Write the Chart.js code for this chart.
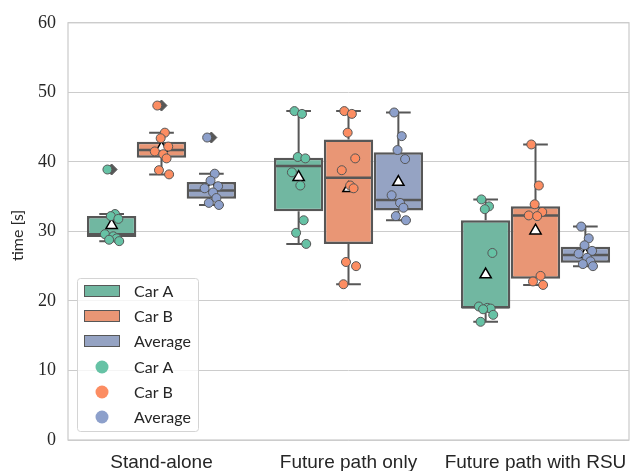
<!DOCTYPE html>
<html>
<head>
<meta charset="utf-8">
<script src="https://cdn.jsdelivr.net/npm/chart.js@4.4.1/dist/chart.umd.min.js"></script>
<style>
    html, body { margin: 0; padding: 0; background: #fff; }
    #wrap { width: 637px; height: 471px; }
</style>
</head>
<body>
<div id="wrap"><canvas id="myChart" width="637" height="471"></canvas></div>
<script>
const categories = ['Stand-alone', 'Future path only', 'Future path with RSU'];
const hue_names = ['Car A', 'Car B', 'Average'];
const y_ticks = [0, 10, 20, 30, 40, 50, 60];

// box stats per category: [lower whisker, q1, median, q3, upper whisker]
const car_a_box = [[28.6, 29.2, 29.6, 32.2, 32.5], [28.2, 32.9, 39.4, 40.6, 47.3], [17.0, 18.9, 19.1, 31.6, 34.6]];
const car_b_box = [[38.2, 40.6, 41.7, 42.9, 44.2], [22.4, 28.2, 37.7, 43.2, 47.3], [22.3, 23.2, 32.3, 33.6, 42.5]];
const avg_box = [[33.8, 34.7, 35.9, 37.1, 38.3], [31.6, 33.0, 34.5, 41.4, 47.1], [25.0, 25.5, 26.6, 27.8, 30.7]];

const car_a_mean = [30.9, 37.8, 23.8];
const car_b_mean = [42.0, 36.2, 30.1];
const avg_mean = [36.3, 37.1, 26.7];

const car_a_outliers = [[38.9], [], []];
const car_b_outliers = [[48.1], [], []];
const avg_outliers = [[43.5], [], []];

const car_a_points = [
    [38.9, 32.5, 32.2, 31.8, 29.6, 29.3, 29.0, 28.8, 28.6],
    [47.3, 46.9, 40.7, 40.5, 38.5, 36.6, 31.6, 29.8, 28.2],
    [34.6, 33.6, 33.2, 26.9, 19.2, 19.0, 18.9, 18.8, 18.0, 17.0],
];
const car_b_points = [
    [48.1, 44.2, 43.4, 42.2, 41.5, 41.1, 40.5, 38.8, 38.2],
    [47.3, 46.9, 44.2, 40.5, 38.8, 36.6, 36.2, 25.6, 25.0, 22.4],
    [42.5, 36.6, 33.9, 32.8, 32.3, 32.2, 23.6, 22.8, 22.3],
];
const avg_points = [
    [43.5, 38.3, 37.3, 36.5, 36.2, 35.6, 34.8, 34.1, 33.8],
    [47.1, 43.7, 41.7, 40.4, 35.2, 34.1, 33.4, 32.2, 31.6],
    [30.7, 29.0, 28.0, 27.2, 26.8, 26.2, 25.7, 25.3, 25.0],
];

const boxes = [car_a_box, car_b_box, avg_box];
const means = [car_a_mean, car_b_mean, avg_mean];
const outliers = [car_a_outliers, car_b_outliers, avg_outliers];
const points = [car_a_points, car_b_points, avg_points];

const box_colors = ['#71b7a1', '#e99675', '#95a3c3'];
const point_colors = ['#66c2a5', '#fc8d62', '#8da0cb'];
const edge_color = '#575757';
const text_color = '#262626';
const dodge = 0.8 / 3;
// fixed jitter pattern (fraction of max jitter), so the strip looks like the reference
const jitter = [-0.5, 0.4, -0.1, 0.8, -0.8, 0.2, 0.6, -0.3, 0.9, -0.6];
const jitter_width = 0.045;

const hueX = (c, h) => c + (h - 1) * dodge;

let datasets = [];
hue_names.forEach((name, h) => {
    datasets.push({
        type: 'bar',
        label: name,
        data: boxes[h].map((b, c) => ({x: hueX(c, h), y: [b[1], b[3]]})),
        backgroundColor: box_colors[h],
        borderColor: edge_color,
        borderWidth: 2.5,
        borderSkipped: false,
        grouped: false,
        categoryPercentage: 1.0,
        barPercentage: 0.99,
        order: 10,
    });
});
hue_names.forEach((name, h) => {
    let data = [];
    outliers[h].forEach((vals, c) => {
        vals.forEach(v => data.push({x: hueX(c, h), y: v}));
    });
    datasets.push({
        type: 'scatter',
        label: name + ' outliers',
        data: data,
        pointStyle: 'rectRot',
        pointRadius: 5.5,
        pointBackgroundColor: edge_color,
        pointBorderColor: edge_color,
        pointBorderWidth: 1,
        order: 3,
    });
});
hue_names.forEach((name, h) => {
    datasets.push({
        type: 'scatter',
        label: name + ' mean',
        data: means[h].map((v, c) => ({x: hueX(c, h), y: v})),
        pointStyle: 'triangle',
        pointRadius: 6.5,
        pointBackgroundColor: '#ffffff',
        pointBorderColor: '#000000',
        pointBorderWidth: 1.5,
        order: 2,
    });
});
hue_names.forEach((name, h) => {
    let data = [];
    points[h].forEach((vals, c) => {
        vals.forEach((v, i) => data.push({
            x: hueX(c, h) + jitter[i % jitter.length] * jitter_width,
            y: v,
        }));
    });
    datasets.push({
        type: 'scatter',
        label: name,
        data: data,
        pointRadius: 4.5,
        pointBackgroundColor: point_colors[h],
        pointBorderColor: edge_color,
        pointBorderWidth: 1,
        order: 1,
    });
});

// whiskers, caps and median lines, drawn right after each box dataset
const whiskerPlugin = {
    id: 'whiskers',
    afterDatasetDraw(chart, args) {
        const meta = args.meta;
        if (meta.type !== 'bar') return;
        const h = args.index;
        const y = chart.scales.y;
        const ctx = chart.ctx;
        ctx.save();
        ctx.strokeStyle = edge_color;
        ctx.lineWidth = 2;
        meta.data.forEach((el, i) => {
            const p = el.getProps(['x', 'width'], true);
            const b = boxes[h][i];
            ctx.beginPath();
            ctx.moveTo(p.x, y.getPixelForValue(b[0]));
            ctx.lineTo(p.x, y.getPixelForValue(b[1]));
            ctx.moveTo(p.x, y.getPixelForValue(b[3]));
            ctx.lineTo(p.x, y.getPixelForValue(b[4]));
            ctx.moveTo(p.x - p.width / 4, y.getPixelForValue(b[0]));
            ctx.lineTo(p.x + p.width / 4, y.getPixelForValue(b[0]));
            ctx.moveTo(p.x - p.width / 4, y.getPixelForValue(b[4]));
            ctx.lineTo(p.x + p.width / 4, y.getPixelForValue(b[4]));
            ctx.stroke();
            ctx.lineWidth = 2.5;
            ctx.beginPath();
            ctx.moveTo(p.x - p.width / 2 + 1, y.getPixelForValue(b[2]));
            ctx.lineTo(p.x + p.width / 2 - 1, y.getPixelForValue(b[2]));
            ctx.stroke();
            ctx.lineWidth = 2;
        });
        ctx.restore();
    }
};

// light frame round the plot area
const framePlugin = {
    id: 'frame',
    beforeDatasetsDraw(chart) {
        const a = chart.chartArea;
        const ctx = chart.ctx;
        ctx.save();
        ctx.strokeStyle = '#cccccc';
        ctx.lineWidth = 1.25;
        ctx.strokeRect(a.left, a.top, a.right - a.left, a.bottom - a.top);
        ctx.restore();
    }
};

// y title and legend box in the lower left corner
const legendPlugin = {
    id: 'boxLegend',
    afterDraw(chart) {
        const a = chart.chartArea;
        const ctx = chart.ctx;
        ctx.save();
        ctx.fillStyle = text_color;
        ctx.font = '16px Lato';
        ctx.textAlign = 'center';
        ctx.textBaseline = 'middle';
        ctx.translate(18, (a.top + a.bottom) / 2 + 4);
        ctx.rotate(-Math.PI / 2);
        ctx.fillText('time [s]', 0, 0);
        ctx.restore();

        const w = 121, hgt = 153, pitch = 25;
        const left = a.left + 9, top = a.bottom - 9 - hgt;
        ctx.save();
        ctx.fillStyle = 'rgba(255,255,255,0.8)';
        ctx.strokeStyle = '#d4d4d4';
        ctx.lineWidth = 1;
        ctx.beginPath();
        ctx.roundRect(left + 0.5, top + 0.5, w, hgt, 3);
        ctx.fill();
        ctx.stroke();
        ctx.font = '16px Lato';
        ctx.textAlign = 'left';
        ctx.textBaseline = 'middle';
        const labels = hue_names.concat(hue_names);
        labels.forEach((name, i) => {
            const cy = top + 13 + i * pitch + (i >= 3 ? 1 : 0);
            const h = i % 3;
            if (i < 3) {
                ctx.fillStyle = box_colors[h];
                ctx.strokeStyle = edge_color;
                ctx.lineWidth = 1;
                ctx.fillRect(left + 7, cy - 6, 36, 12);
                ctx.strokeRect(left + 7.5, cy - 5.5, 35, 11);
            } else {
                ctx.fillStyle = point_colors[h];
                ctx.beginPath();
                ctx.arc(left + 25, cy, 6.5, 0, Math.PI * 2);
                ctx.fill();
            }
            ctx.fillStyle = text_color;
            ctx.fillText(name, left + 57, cy + 1);
        });
        ctx.restore();
    }
};

const ctx = document.getElementById('myChart');
const myChart = new Chart(ctx, {
    type: 'bar',
    data: {
        datasets: datasets,
    },
    options: {
        responsive: false,
        animation: false,
        events: [],
        layout: {
            padding: {left: 0, right: 1, top: 18, bottom: 0},
        },
        plugins: {
            legend: {display: false},
            tooltip: {enabled: false},
        },
        scales: {
            x: {
                type: 'linear',
                offset: false,
                min: -0.5,
                max: 2.5,
                afterBuildTicks: (scale) => { scale.ticks = categories.map((c, i) => ({value: i})); },
                grid: {display: false},
                border: {display: false},
                ticks: {
                    color: text_color,
                    font: {family: 'Liberation Sans', size: 19},
                    padding: 3,
                    maxRotation: 0,
                    autoSkip: false,
                    callback: (v) => categories[v],
                },
                afterFit: (scale) => { scale.height = 31; },
            },
            y: {
                min: 0,
                max: 60,
                afterBuildTicks: (scale) => { scale.ticks = y_ticks.map(v => ({value: v})); },
                grid: {color: '#cccccc', lineWidth: 1, drawTicks: false},
                border: {display: false},
                ticks: {
                    color: text_color,
                    font: {family: 'Liberation Serif', size: 18},
                    padding: 12,
                },
                afterFit: (scale) => { scale.width = 68; },
            },
        },
    },
    plugins: [whiskerPlugin, framePlugin, legendPlugin],
});
</script>
</body>
</html>
